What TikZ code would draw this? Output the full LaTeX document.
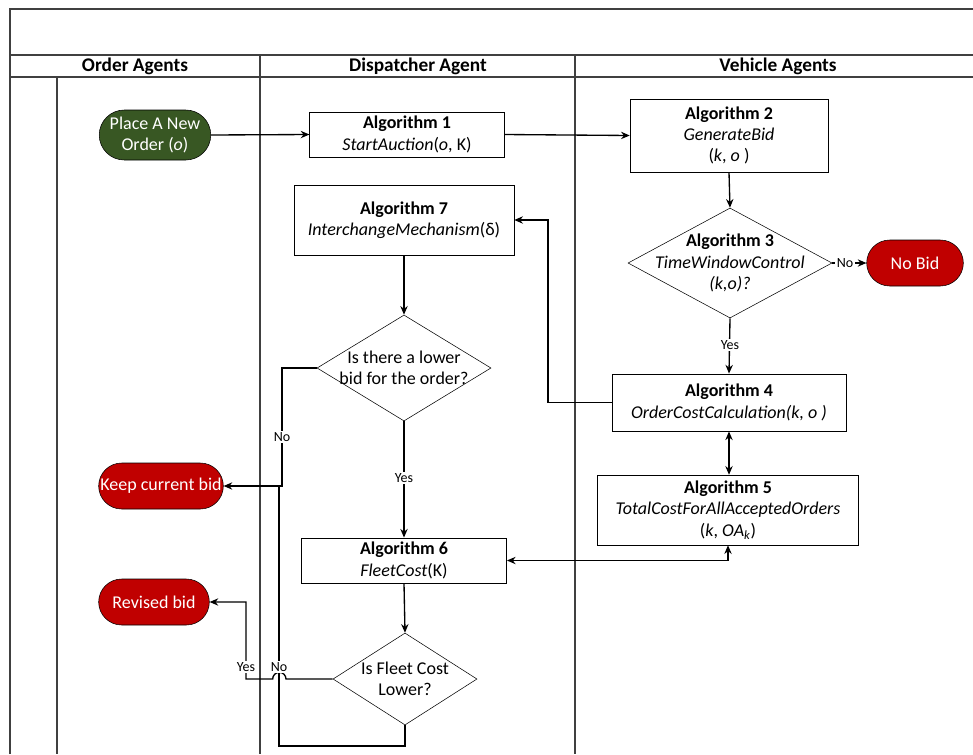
\documentclass[tikz,border=0pt]{standalone}
\usepackage{fontspec}
\setmainfont{Carlito}
\usetikzlibrary{arrows.meta, positioning, shapes.geometric, shapes.misc}
\definecolor{bidred}{HTML}{C00000}
\definecolor{ordergreen}{HTML}{385723}
\definecolor{laneline}{HTML}{404040}

\begin{document}
\begin{tikzpicture}[x=0.75pt, y=-0.75pt, >={Stealth[length=6.5pt, width=5.5pt]},
    txt/.style={font=\fontsize{13.5}{16}\selectfont},
    algbox/.style={txt, draw, fill=white, rectangle, align=center, inner sep=2pt},
    decision/.style={draw, fill=white, diamond, inner sep=0pt},
    dtext/.style={txt, align=center},
    terminal/.style={txt, draw, rounded rectangle, text=white, align=center, inner sep=2pt},
    lane/.style={laneline, line width=0.8pt},
    flow/.style={line width=1pt},
    lbl/.style={font=\fontsize{10.5}{12}\selectfont, fill=white, inner sep=1pt},
    title/.style={font=\fontsize{14.5}{16}\selectfont\bfseries}]

      \useasboundingbox (0,0) rectangle (973,754);

      % Pool e raias
      \draw[lane] (10,754) -- (10,9) -- (973,9);
      \draw[lane] (10,55) -- (973,55);
      \draw[lane] (10,77) -- (973,77);
      \draw[lane] (57,77) -- (57,754);
      \draw[lane] (260,55) -- (260,754);
      \draw[lane] (575,55) -- (575,754);

      % Titulos das raias
      \node[title] (lane1) at (135,66) {Order Agents};
      \node[title] (lane2) at (418,66) {Dispatcher Agent};
      \node[title] (lane3) at (778,66) {Vehicle Agents};

      % Order agents
      \node[terminal, fill=ordergreen, minimum width=79pt, minimum height=37.5pt] (order) at (155,135) {Place A New\\Order (\textit{o})};
      \node[terminal, fill=bidred, minimum width=97.5pt, minimum height=34.5pt] (keep) at (161,486) {Keep current bid};
      \node[terminal, fill=bidred, minimum width=87pt, minimum height=34.5pt] (revised) at (154,602) {Revised bid};

      % Dispatcher agent
      \node[algbox, minimum width=146pt, minimum height=34pt] (alg1) at (407,134.5) {\textbf{Algorithm 1}\\\textit{StartAuction}(\textit{o}, K)};
      \node[algbox, minimum width=165pt, minimum height=52.5pt] (alg7) at (404,220) {\textbf{Algorithm 7}\\\textit{InterchangeMechanism}(δ)};
      \node[decision, minimum width=130.5pt, minimum height=79.5pt] (lower) at (404,368) {};
      \node[dtext] (lowertxt) at (lower) {Is there a lower\\bid for the order?};
      \node[algbox, minimum width=154pt, minimum height=34pt] (alg6) at (404,560.5) {\textbf{Algorithm 6}\\\textit{FleetCost}(K)};
      \node[decision, minimum width=108pt, minimum height=69pt] (fleet) at (405,679) {};
      \node[dtext] (fleettxt) at (fleet) {Is Fleet Cost\\Lower?};

      % Vehicle agents
      \node[algbox, minimum width=148.5pt, minimum height=55pt] (alg2) at (729,135.5) {\textbf{Algorithm 2}\\\textit{GenerateBid}\\(\textit{k}, \textit{o} )};
      \node[decision, minimum width=153pt, minimum height=82.5pt] (alg3) at (730,263) {};
      \node[dtext] (alg3txt) at (alg3) {\textbf{Algorithm 3}\\\textit{TimeWindowControl}\\\textit{(k,o)?}};
      \node[terminal, fill=bidred, minimum width=76.5pt, minimum height=34.5pt] (nobid) at (915,263) {No Bid};
      \node[algbox, minimum width=175.5pt, minimum height=43pt] (alg4) at (729,402.5) {\textbf{Algorithm 4}\\\textit{OrderCostCalculation(k, o )}};
      \node[algbox, minimum width=196pt, minimum height=52.5pt] (alg5) at (728,510) {\textbf{Algorithm 5}\\\textit{TotalCostForAllAcceptedOrders}\\(\textit{k}, \textit{OA\textsubscript{k}})};

      % Conexoes
      \draw[flow, ->] (order.east) -- (alg1.west);
      \draw[flow, ->] (alg1.east) -- (alg2.west);
      \draw[flow, ->] (alg2.south) -- (alg3.north);
      \draw[flow, ->] (alg3.east) -- (nobid.west);
      \draw[flow, ->] (alg3.south) -- (alg4.north);
      \draw[flow, <->] (alg4.south) -- (alg4.south |- alg5.north);
      \draw[flow, ->] (alg4.west) -- (548,402.5) |- (alg7.east);
      \draw[flow, ->] (alg7.south) -- (lower.north);
      \draw[flow, ->] (lower.south) -- (alg6.north);
      \draw[flow, ->] (lower.west) -- (282,368) |- (keep.east);
      \draw[flow, <->] (alg6.east) -| (alg5.south);
      \draw[flow, ->] (alg6.south) -- (fleet.north);
      \draw[flow] (fleet.south) |- (279,746) -- (279,486);
      \draw[flow, ->] (fleet.west) -- (286,679) arc[start angle=0, end angle=180, radius=5pt] -- (246,679) |- (revised.east);

      % Rotulos
      \node[lbl] (no3) at (845,263) {No};
      \node[lbl] (yes2) at (730,345) {Yes};
      \node[lbl] (no1) at (282,437) {No};
      \node[lbl] (yes1) at (404,478) {Yes};
      \node[lbl] (no2) at (279,667) {No};
      \node[lbl] (yes3) at (246,667) {Yes};

    \end{tikzpicture}
\end{document}
